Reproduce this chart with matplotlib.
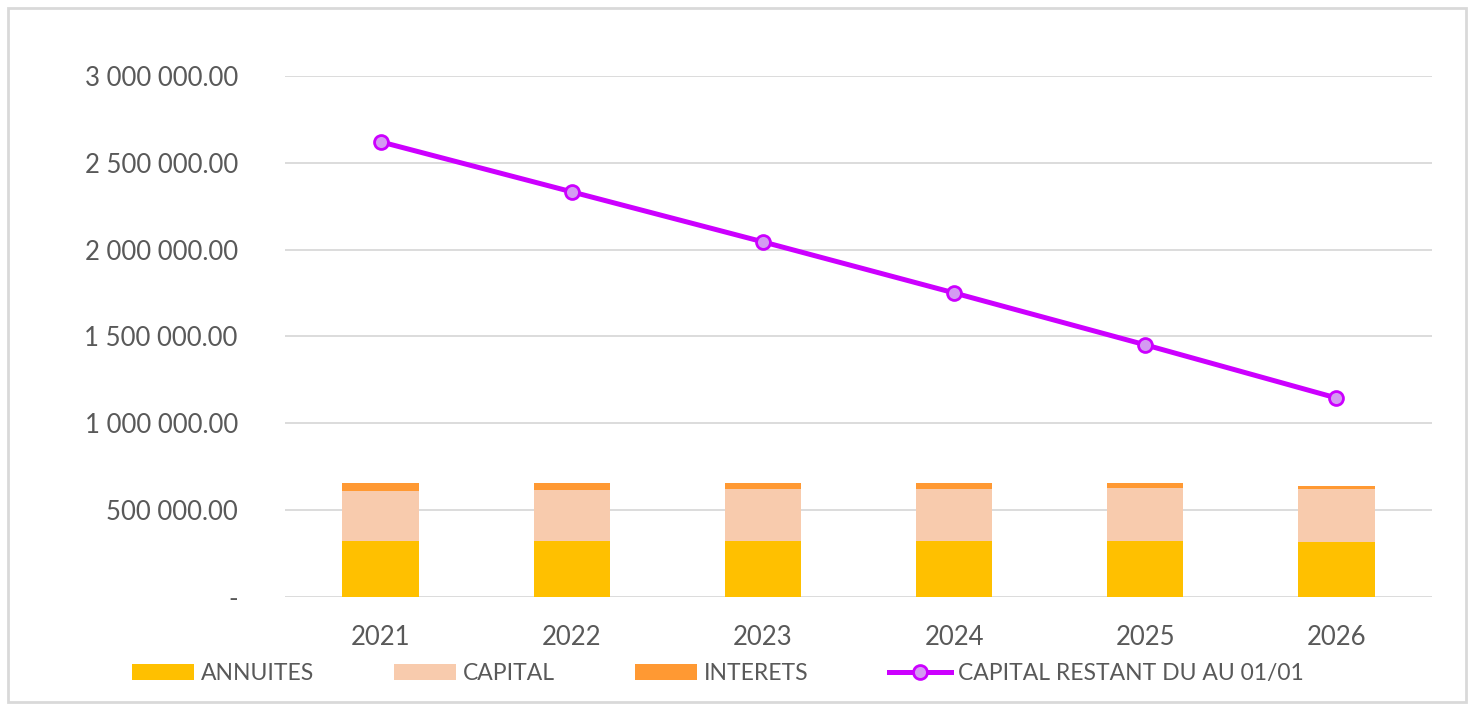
import numpy as np
import matplotlib
matplotlib.use('Agg')
import matplotlib.pyplot as plt
from matplotlib.patches import Rectangle

# data
annees = ['2021', '2022', '2023', '2024', '2025', '2026']
annuites = [322000, 322000, 322000, 322000, 322000, 315000]
capital = [290000, 295000, 300000, 302000, 308000, 307000]
interets = [46000, 41000, 36000, 34000, 28000, 19000]
capital_restant = [2621000, 2333000, 2045000, 1751000, 1452000, 1146000]

plt.rcParams['font.family'] = ['Lato', 'DejaVu Sans']

fig = plt.figure(figsize=(14.74, 7.07), dpi=100)
ax = fig.add_axes([0.1934, 0.1556, 0.9715 - 0.1934, 0.8925 - 0.1556])

x = np.arange(len(annees))
w = 0.40
b1 = ax.bar(x, annuites, w, color='#FFC000', label='ANNUITES', zorder=2)
bot = np.array(annuites)
b2 = ax.bar(x, capital, w, bottom=bot, color='#F8CBAD', label='CAPITAL', zorder=2)
bot = bot + np.array(capital)
b3 = ax.bar(x, interets, w, bottom=bot, color='#FF9933', label='INTERETS', zorder=2)
l1, = ax.plot(x, capital_restant, color='#CC00FF', lw=3.6, marker='o', ms=10,
              mfc='#D49BF2', mec='#CC00FF', mew=2, label='CAPITAL RESTANT DU AU 01/01', zorder=3)

ax.set_xlim(-0.5, 5.5)
ax.set_ylim(0, 3000000)
yt = np.arange(0, 3000001, 500000)
ax.set_yticks(yt)
ax.set_yticklabels(['-'] + ['{:,.2f}'.format(v).replace(',', ' ') for v in yt[1:]])
ax.set_xticks(x)
ax.set_xticklabels(annees)
ax.grid(axis='y', color='#D9D9D9', lw=1.3, zorder=0)
ax.set_axisbelow(True)
for s in ax.spines.values():
    s.set_visible(False)
ax.tick_params(length=0, colors='#595959', labelsize=18.5)
ax.tick_params(axis='y', pad=34)
ax.tick_params(axis='x', pad=20)

leg = fig.legend(handles=[b1, b2, b3, l1], loc='center', bbox_to_anchor=(0.487, 0.048),
                 ncol=4, frameon=False, fontsize=16.5, handlelength=2.7, handletextpad=0.3,
                 columnspacing=3.5, labelcolor='#595959')

fig.patches.append(Rectangle((8 / 1474, 5 / 707), 1458 / 1474, 694 / 707, transform=fig.transFigure,
                             fill=False, edgecolor='#D9D9D9', lw=2))

fig.savefig('out.png', dpi=100)
